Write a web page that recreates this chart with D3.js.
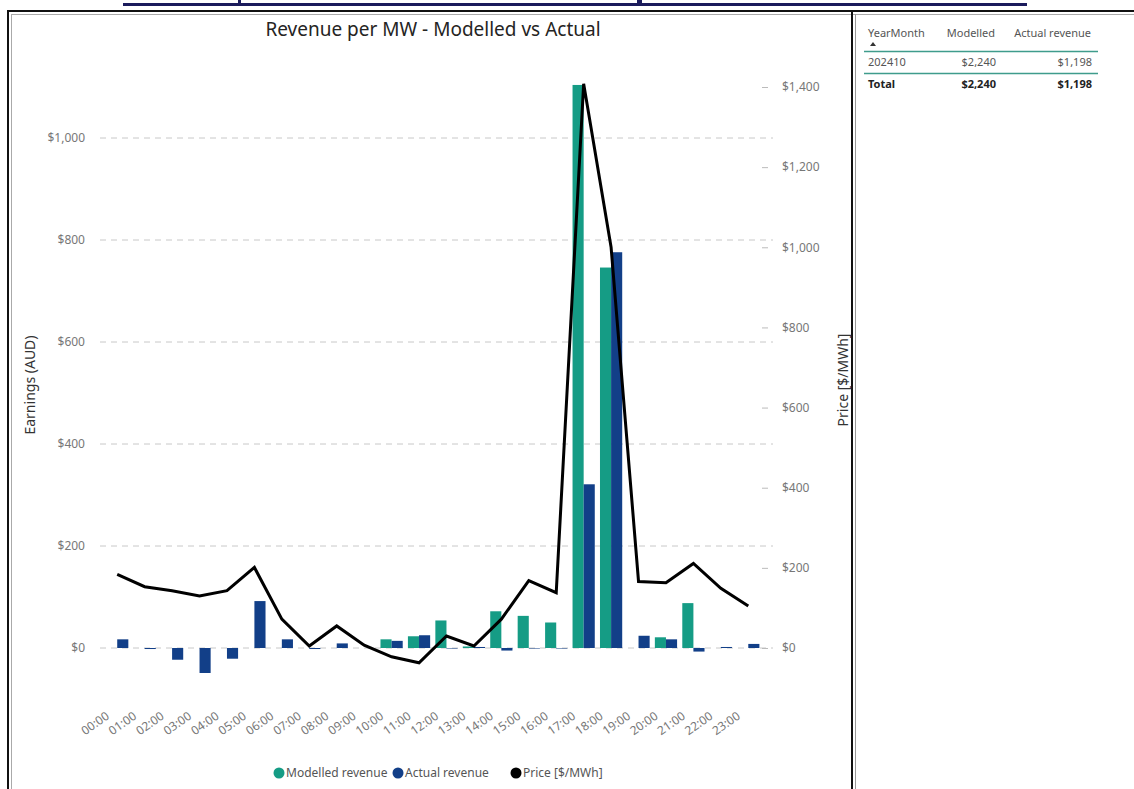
<!DOCTYPE html>
<html>
<head>
<meta charset="utf-8">
<script src="https://cdn.jsdelivr.net/npm/d3@7"></script>
<style>
  html, body { margin: 0; padding: 0; background: #fff; }
  svg { display: block; font-family: "Noto Sans", "Open Sans", sans-serif; }
</style>
</head>
<body>
<svg id="chart" width="1134" height="789"></svg>
<script>
const hours = ["00:00","01:00","02:00","03:00","04:00","05:00","06:00","07:00","08:00","09:00","10:00","11:00",
               "12:00","13:00","14:00","15:00","16:00","17:00","18:00","19:00","20:00","21:00","22:00","23:00"];
const modelled = [0,0,0,0,0,0,0,0,0,0,17,23,54,3,72,63,50,1104,746,0,21,88,0,0];
const actual   = [17,-2,-23,-49,-21,92,17,-2,9,0,14,25,-1,2,-5,-1,-1,321,776,24,17,-7,2,8];
const price    = [184,153,143,130,143,201,72,5,55,7,-22,-37,30,5,72,168,138,1408,1000,166,163,211,149,105];
const leftTicks = [0,200,400,600,800,1000];
const rightTicks = [0,200,400,600,800,1000,1200,1400];
const seriesNames = ["Modelled revenue","Actual revenue","Price [$/MWh]"];
const tableHeader = ["YearMonth","Modelled","Actual revenue"];
const tableRow = ["202410","$2,240","$1,198"];
const tableTotal = ["Total","$2,240","$1,198"];

const TEAL = "#159C85", NAVY = "#123F88", BLACK = "#000";
const svg = d3.select("#chart");

// frame
svg.append("rect").attr("x",8).attr("y",11).attr("width",1140).attr("height",790)
  .attr("fill","none").attr("stroke","#111").attr("stroke-width",2);
svg.append("rect").attr("x",11.5).attr("y",14.5).attr("width",1140).attr("height",790)
  .attr("fill","none").attr("stroke","#aaa").attr("stroke-width",1);
svg.append("line").attr("x1",852).attr("x2",852).attr("y1",11).attr("y2",789).attr("stroke","#111").attr("stroke-width",2);
svg.append("line").attr("x1",855.5).attr("x2",855.5).attr("y1",14).attr("y2",789).attr("stroke","#999").attr("stroke-width",1);

// top cropped heading underline
svg.append("rect").attr("x",123).attr("y",3).attr("width",904).attr("height",3).attr("fill","#1b1b5c");
svg.append("rect").attr("x",238).attr("y",0).attr("width",3).attr("height",3).attr("fill","#1b1b5c");
svg.append("rect").attr("x",637).attr("y",0).attr("width",5).attr("height",3).attr("fill","#1b1b5c");

// title
svg.append("text").attr("x",433).attr("y",36).attr("text-anchor","middle")
  .attr("font-size",19).attr("fill","#252423").text("Revenue per MW - Modelled vs Actual");

// scales
const x0 = d3.scaleBand().domain(hours).range([103.5, 762]).paddingInner(0.19).paddingOuter(0.095);
const x1 = d3.scaleBand().domain(["m","a"]).range([0, x0.bandwidth()]);
const yL = d3.scaleLinear().domain([0,1000]).range([648,138]);
const yR = d3.scaleLinear().domain([0,1400]).range([648,87]);

// gridlines
svg.append("g").selectAll("line").data(leftTicks).join("line")
  .attr("x1",100).attr("x2",773).attr("y1",d=>yL(d)).attr("y2",d=>yL(d))
  .attr("stroke","#c8c8c8").attr("stroke-dasharray","6,5").attr("stroke-width",1);

// left axis labels
const axL = svg.append("g").attr("transform","translate(85,0)")
  .call(d3.axisLeft(yL).tickValues(leftTicks).tickSize(0).tickPadding(0).tickFormat(d=>"$"+d3.format(",")(d)));
axL.select(".domain").remove();
axL.selectAll("text").attr("font-size",12).attr("fill","#777").attr("font-family","Noto Sans, sans-serif");

// right axis
const axR = svg.append("g").attr("transform","translate(762,0)")
  .call(d3.axisRight(yR).tickValues(rightTicks).tickSize(6).tickPadding(14).tickFormat(d=>"$"+d3.format(",")(d)));
axR.select(".domain").remove();
axR.selectAll("line").attr("stroke","#bbb");
axR.selectAll("text").attr("font-size",12).attr("fill","#777").attr("font-family","Noto Sans, sans-serif");

// axis titles
svg.append("text").attr("transform","translate(35,385) rotate(-90)").attr("text-anchor","middle")
  .attr("font-size",14).attr("fill","#333").text("Earnings (AUD)");
svg.append("text").attr("transform","translate(848,380) rotate(-90)").attr("text-anchor","middle")
  .attr("font-size",14).attr("fill","#333").text("Price [$/MWh]");

// bars
const bars = svg.append("g");
bars.selectAll("rect.m").data(modelled).join("rect").attr("class","m")
  .attr("x",(d,i)=>x0(hours[i])+x1("m")).attr("width",x1.bandwidth())
  .attr("y",d=>yL(Math.max(0,d))).attr("height",d=>Math.abs(yL(d)-yL(0)))
  .attr("fill",TEAL);
bars.selectAll("rect.a").data(actual).join("rect").attr("class","a")
  .attr("x",(d,i)=>x0(hours[i])+x1("a")).attr("width",x1.bandwidth())
  .attr("y",d=>yL(Math.max(0,d))).attr("height",d=>Math.abs(yL(d)-yL(0)))
  .attr("fill",NAVY);

// price line
const line = d3.line().x((d,i)=>x0(hours[i])+x0.bandwidth()/2).y(d=>yR(d));
svg.append("path").datum(price).attr("d",line).attr("fill","none")
  .attr("stroke",BLACK).attr("stroke-width",3).attr("stroke-linejoin","miter");

// x labels
svg.append("g").selectAll("text").data(hours).join("text")
  .attr("transform",d=>`translate(${x0(d)+x0.bandwidth()/2-12},711) rotate(-35)`)
  .attr("text-anchor","end").attr("dy","0.7em")
  .attr("font-size",12).attr("fill","#777").text(d=>d);

// legend
const legend = [{c:TEAL,x:279},{c:NAVY,x:398},{c:BLACK,x:516}];
const lg = svg.append("g");
lg.selectAll("circle").data(legend).join("circle").attr("cx",d=>d.x).attr("cy",773).attr("r",5.5).attr("fill",d=>d.c);
lg.selectAll("text").data(legend).join("text").attr("x",d=>d.x+7).attr("y",777)
  .attr("font-size",12).attr("fill","#555").text((d,i)=>seriesNames[i]);

// table
const colX = [868, 995, 1091];
const anchors = ["start","end","end"];
const tb = svg.append("g").attr("font-size",11);
tb.selectAll("text.h").data(tableHeader).join("text").attr("class","h")
  .attr("x",(d,i)=>colX[i]).attr("y",37).attr("text-anchor",(d,i)=>anchors[i]).attr("fill","#555").text(d=>d);
tb.append("path").attr("d","M870,46 L873,42 L876,46 Z").attr("fill","#333");
tb.append("line").attr("x1",864).attr("x2",1098).attr("y1",51.5).attr("y2",51.5).attr("stroke","#3f9c8c").attr("stroke-width",1.5);
tb.selectAll("text.r").data(tableRow).join("text").attr("class","r")
  .attr("x",(d,i)=>colX[i]+(i?1:0)).attr("y",66).attr("text-anchor",(d,i)=>anchors[i]).attr("fill","#555").text(d=>d);
tb.append("line").attr("x1",864).attr("x2",1098).attr("y1",73.5).attr("y2",73.5).attr("stroke","#3f9c8c").attr("stroke-width",1.5);
tb.selectAll("text.t").data(tableTotal).join("text").attr("class","t")
  .attr("x",(d,i)=>colX[i]+(i?1:0)).attr("y",88).attr("text-anchor",(d,i)=>anchors[i]).attr("fill","#222")
  .attr("font-weight","bold").text(d=>d);
</script>
</body>
</html>
